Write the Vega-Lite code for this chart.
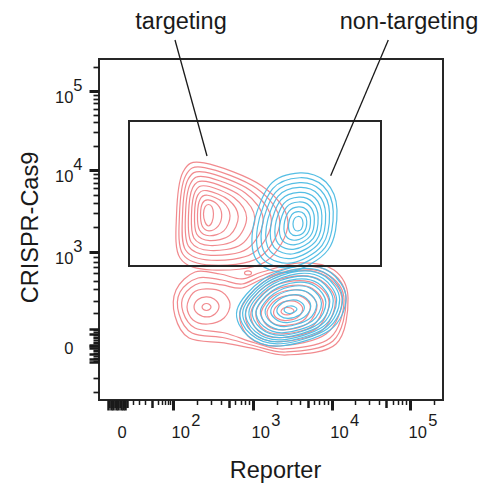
{
  "$schema": "https://vega.github.io/schema/vega-lite/v6.json",
  "width": 344,
  "height": 341,
  "autosize": {"type": "none"},
  "padding": {"left": 99, "top": 59, "right": 57, "bottom": 91},
  "background": "white",
  "config": {
    "font": "Liberation Sans",
    "view": {"stroke": "#262626", "strokeWidth": 2},
    "axis": {
      "grid": false,
      "domain": false,
      "tickColor": "#1a1a1a",
      "labelColor": "#1a1a1a",
      "labelFont": "Liberation Sans",
      "labelFontSize": 16.5,
      "labelLineHeight": 12.5,
      "labelOverlap": false,
      "labelFlush": false,
      "labelBound": false,
      "titleFont": "Liberation Sans",
      "titleFontSize": 23.5,
      "titleFontWeight": "normal",
      "titleColor": "#1a1a1a"
    }
  },
  "resolve": {"axis": {"x": "independent", "y": "independent"}},
  "datasets": {
    "contours": [
      {"sample":"targeting","ring":"t-u1","pt":0,"reporter":2.506,"cas9":3.475},
      {"sample":"targeting","ring":"t-u1","pt":1,"reporter":2.488,"cas9":3.563},
      {"sample":"targeting","ring":"t-u1","pt":2,"reporter":2.444,"cas9":3.594},
      {"sample":"targeting","ring":"t-u1","pt":3,"reporter":2.400,"cas9":3.563},
      {"sample":"targeting","ring":"t-u1","pt":4,"reporter":2.381,"cas9":3.475},
      {"sample":"targeting","ring":"t-u1","pt":5,"reporter":2.400,"cas9":3.375},
      {"sample":"targeting","ring":"t-u1","pt":6,"reporter":2.444,"cas9":3.325},
      {"sample":"targeting","ring":"t-u1","pt":7,"reporter":2.488,"cas9":3.375},
      {"sample":"targeting","ring":"t-u2","pt":0,"reporter":2.609,"cas9":3.464},
      {"sample":"targeting","ring":"t-u2","pt":1,"reporter":2.557,"cas9":3.592},
      {"sample":"targeting","ring":"t-u2","pt":2,"reporter":2.438,"cas9":3.652},
      {"sample":"targeting","ring":"t-u2","pt":3,"reporter":2.369,"cas9":3.611},
      {"sample":"targeting","ring":"t-u2","pt":4,"reporter":2.344,"cas9":3.474},
      {"sample":"targeting","ring":"t-u2","pt":5,"reporter":2.365,"cas9":3.325},
      {"sample":"targeting","ring":"t-u2","pt":6,"reporter":2.449,"cas9":3.264},
      {"sample":"targeting","ring":"t-u2","pt":7,"reporter":2.562,"cas9":3.319},
      {"sample":"targeting","ring":"t-u3","pt":0,"reporter":2.713,"cas9":3.453},
      {"sample":"targeting","ring":"t-u3","pt":1,"reporter":2.627,"cas9":3.621},
      {"sample":"targeting","ring":"t-u3","pt":2,"reporter":2.432,"cas9":3.709},
      {"sample":"targeting","ring":"t-u3","pt":3,"reporter":2.339,"cas9":3.660},
      {"sample":"targeting","ring":"t-u3","pt":4,"reporter":2.306,"cas9":3.472},
      {"sample":"targeting","ring":"t-u3","pt":5,"reporter":2.331,"cas9":3.275},
      {"sample":"targeting","ring":"t-u3","pt":6,"reporter":2.454,"cas9":3.203},
      {"sample":"targeting","ring":"t-u3","pt":7,"reporter":2.635,"cas9":3.264},
      {"sample":"targeting","ring":"t-u4","pt":0,"reporter":2.816,"cas9":3.442},
      {"sample":"targeting","ring":"t-u4","pt":1,"reporter":2.696,"cas9":3.650},
      {"sample":"targeting","ring":"t-u4","pt":2,"reporter":2.425,"cas9":3.767},
      {"sample":"targeting","ring":"t-u4","pt":3,"reporter":2.308,"cas9":3.708},
      {"sample":"targeting","ring":"t-u4","pt":4,"reporter":2.269,"cas9":3.471},
      {"sample":"targeting","ring":"t-u4","pt":5,"reporter":2.296,"cas9":3.225},
      {"sample":"targeting","ring":"t-u4","pt":6,"reporter":2.459,"cas9":3.142},
      {"sample":"targeting","ring":"t-u4","pt":7,"reporter":2.709,"cas9":3.208},
      {"sample":"targeting","ring":"t-u5","pt":0,"reporter":2.920,"cas9":3.431},
      {"sample":"targeting","ring":"t-u5","pt":1,"reporter":2.765,"cas9":3.679},
      {"sample":"targeting","ring":"t-u5","pt":2,"reporter":2.419,"cas9":3.825},
      {"sample":"targeting","ring":"t-u5","pt":3,"reporter":2.278,"cas9":3.757},
      {"sample":"targeting","ring":"t-u5","pt":4,"reporter":2.231,"cas9":3.469},
      {"sample":"targeting","ring":"t-u5","pt":5,"reporter":2.261,"cas9":3.175},
      {"sample":"targeting","ring":"t-u5","pt":6,"reporter":2.464,"cas9":3.081},
      {"sample":"targeting","ring":"t-u5","pt":7,"reporter":2.782,"cas9":3.153},
      {"sample":"targeting","ring":"t-u6","pt":0,"reporter":3.023,"cas9":3.419},
      {"sample":"targeting","ring":"t-u6","pt":1,"reporter":2.835,"cas9":3.708},
      {"sample":"targeting","ring":"t-u6","pt":2,"reporter":2.413,"cas9":3.882},
      {"sample":"targeting","ring":"t-u6","pt":3,"reporter":2.247,"cas9":3.806},
      {"sample":"targeting","ring":"t-u6","pt":4,"reporter":2.194,"cas9":3.468},
      {"sample":"targeting","ring":"t-u6","pt":5,"reporter":2.226,"cas9":3.125},
      {"sample":"targeting","ring":"t-u6","pt":6,"reporter":2.468,"cas9":3.019},
      {"sample":"targeting","ring":"t-u6","pt":7,"reporter":2.856,"cas9":3.097},
      {"sample":"targeting","ring":"t-u7","pt":0,"reporter":3.127,"cas9":3.408},
      {"sample":"targeting","ring":"t-u7","pt":1,"reporter":2.904,"cas9":3.738},
      {"sample":"targeting","ring":"t-u7","pt":2,"reporter":2.407,"cas9":3.940},
      {"sample":"targeting","ring":"t-u7","pt":3,"reporter":2.217,"cas9":3.854},
      {"sample":"targeting","ring":"t-u7","pt":4,"reporter":2.156,"cas9":3.467},
      {"sample":"targeting","ring":"t-u7","pt":5,"reporter":2.192,"cas9":3.075},
      {"sample":"targeting","ring":"t-u7","pt":6,"reporter":2.473,"cas9":2.958},
      {"sample":"targeting","ring":"t-u7","pt":7,"reporter":2.929,"cas9":3.042},
      {"sample":"targeting","ring":"t-u8","pt":0,"reporter":3.230,"cas9":3.397},
      {"sample":"targeting","ring":"t-u8","pt":1,"reporter":2.973,"cas9":3.767},
      {"sample":"targeting","ring":"t-u8","pt":2,"reporter":2.400,"cas9":3.998},
      {"sample":"targeting","ring":"t-u8","pt":3,"reporter":2.186,"cas9":3.903},
      {"sample":"targeting","ring":"t-u8","pt":4,"reporter":2.119,"cas9":3.465},
      {"sample":"targeting","ring":"t-u8","pt":5,"reporter":2.157,"cas9":3.025},
      {"sample":"targeting","ring":"t-u8","pt":6,"reporter":2.478,"cas9":2.897},
      {"sample":"targeting","ring":"t-u8","pt":7,"reporter":3.003,"cas9":2.986},
      {"sample":"targeting","ring":"t-u9","pt":0,"reporter":3.334,"cas9":3.386},
      {"sample":"targeting","ring":"t-u9","pt":1,"reporter":3.043,"cas9":3.796},
      {"sample":"targeting","ring":"t-u9","pt":2,"reporter":2.394,"cas9":4.055},
      {"sample":"targeting","ring":"t-u9","pt":3,"reporter":2.156,"cas9":3.951},
      {"sample":"targeting","ring":"t-u9","pt":4,"reporter":2.081,"cas9":3.464},
      {"sample":"targeting","ring":"t-u9","pt":5,"reporter":2.122,"cas9":2.975},
      {"sample":"targeting","ring":"t-u9","pt":6,"reporter":2.483,"cas9":2.836},
      {"sample":"targeting","ring":"t-u9","pt":7,"reporter":3.076,"cas9":2.931},
      {"sample":"targeting","ring":"t-u10","pt":0,"reporter":3.437,"cas9":3.375},
      {"sample":"targeting","ring":"t-u10","pt":1,"reporter":3.112,"cas9":3.825},
      {"sample":"targeting","ring":"t-u10","pt":2,"reporter":2.388,"cas9":4.113},
      {"sample":"targeting","ring":"t-u10","pt":3,"reporter":2.125,"cas9":4.000},
      {"sample":"targeting","ring":"t-u10","pt":4,"reporter":2.044,"cas9":3.463},
      {"sample":"targeting","ring":"t-u10","pt":5,"reporter":2.088,"cas9":2.925},
      {"sample":"targeting","ring":"t-u10","pt":6,"reporter":2.488,"cas9":2.775},
      {"sample":"targeting","ring":"t-u10","pt":7,"reporter":3.150,"cas9":2.875},
      {"sample":"targeting","ring":"t-s1","pt":0,"reporter":2.475,"cas9":2.313},
      {"sample":"targeting","ring":"t-s1","pt":1,"reporter":2.456,"cas9":2.344},
      {"sample":"targeting","ring":"t-s1","pt":2,"reporter":2.419,"cas9":2.356},
      {"sample":"targeting","ring":"t-s1","pt":3,"reporter":2.381,"cas9":2.344},
      {"sample":"targeting","ring":"t-s1","pt":4,"reporter":2.363,"cas9":2.313},
      {"sample":"targeting","ring":"t-s1","pt":5,"reporter":2.381,"cas9":2.281},
      {"sample":"targeting","ring":"t-s1","pt":6,"reporter":2.419,"cas9":2.269},
      {"sample":"targeting","ring":"t-s1","pt":7,"reporter":2.456,"cas9":2.281},
      {"sample":"targeting","ring":"t-s2","pt":0,"reporter":2.575,"cas9":2.325},
      {"sample":"targeting","ring":"t-s2","pt":1,"reporter":2.513,"cas9":2.413},
      {"sample":"targeting","ring":"t-s2","pt":2,"reporter":2.413,"cas9":2.438},
      {"sample":"targeting","ring":"t-s2","pt":3,"reporter":2.313,"cas9":2.406},
      {"sample":"targeting","ring":"t-s2","pt":4,"reporter":2.263,"cas9":2.313},
      {"sample":"targeting","ring":"t-s2","pt":5,"reporter":2.313,"cas9":2.225},
      {"sample":"targeting","ring":"t-s2","pt":6,"reporter":2.425,"cas9":2.188},
      {"sample":"targeting","ring":"t-s2","pt":7,"reporter":2.525,"cas9":2.225},
      {"sample":"targeting","ring":"t-s3","pt":0,"reporter":2.713,"cas9":2.350},
      {"sample":"targeting","ring":"t-s3","pt":1,"reporter":2.613,"cas9":2.500},
      {"sample":"targeting","ring":"t-s3","pt":2,"reporter":2.413,"cas9":2.538},
      {"sample":"targeting","ring":"t-s3","pt":3,"reporter":2.250,"cas9":2.488},
      {"sample":"targeting","ring":"t-s3","pt":4,"reporter":2.175,"cas9":2.313},
      {"sample":"targeting","ring":"t-s3","pt":5,"reporter":2.250,"cas9":2.150},
      {"sample":"targeting","ring":"t-s3","pt":6,"reporter":2.438,"cas9":2.100},
      {"sample":"targeting","ring":"t-s3","pt":7,"reporter":2.638,"cas9":2.175},
      {"sample":"targeting","ring":"t-l1","pt":0,"reporter":3.513,"cas9":2.263},
      {"sample":"targeting","ring":"t-l1","pt":1,"reporter":3.475,"cas9":2.300},
      {"sample":"targeting","ring":"t-l1","pt":2,"reporter":3.425,"cas9":2.306},
      {"sample":"targeting","ring":"t-l1","pt":3,"reporter":3.375,"cas9":2.294},
      {"sample":"targeting","ring":"t-l1","pt":4,"reporter":3.350,"cas9":2.256},
      {"sample":"targeting","ring":"t-l1","pt":5,"reporter":3.375,"cas9":2.225},
      {"sample":"targeting","ring":"t-l1","pt":6,"reporter":3.425,"cas9":2.213},
      {"sample":"targeting","ring":"t-l1","pt":7,"reporter":3.475,"cas9":2.225},
      {"sample":"targeting","ring":"t-l2","pt":0,"reporter":3.621,"cas9":2.287},
      {"sample":"targeting","ring":"t-l2","pt":1,"reporter":3.554,"cas9":2.372},
      {"sample":"targeting","ring":"t-l2","pt":2,"reporter":3.445,"cas9":2.388},
      {"sample":"targeting","ring":"t-l2","pt":3,"reporter":3.328,"cas9":2.351},
      {"sample":"targeting","ring":"t-l2","pt":4,"reporter":3.258,"cas9":2.255},
      {"sample":"targeting","ring":"t-l2","pt":5,"reporter":3.301,"cas9":2.171},
      {"sample":"targeting","ring":"t-l2","pt":6,"reporter":3.409,"cas9":2.143},
      {"sample":"targeting","ring":"t-l2","pt":7,"reporter":3.554,"cas9":2.180},
      {"sample":"targeting","ring":"t-l3","pt":0,"reporter":3.717,"cas9":2.309},
      {"sample":"targeting","ring":"t-l3","pt":1,"reporter":3.624,"cas9":2.436},
      {"sample":"targeting","ring":"t-l3","pt":2,"reporter":3.463,"cas9":2.461},
      {"sample":"targeting","ring":"t-l3","pt":3,"reporter":3.286,"cas9":2.402},
      {"sample":"targeting","ring":"t-l3","pt":4,"reporter":3.176,"cas9":2.254},
      {"sample":"targeting","ring":"t-l3","pt":5,"reporter":3.235,"cas9":2.123},
      {"sample":"targeting","ring":"t-l3","pt":6,"reporter":3.395,"cas9":2.081},
      {"sample":"targeting","ring":"t-l3","pt":7,"reporter":3.624,"cas9":2.140},
      {"sample":"targeting","ring":"t-l4","pt":0,"reporter":3.801,"cas9":2.329},
      {"sample":"targeting","ring":"t-l4","pt":1,"reporter":3.685,"cas9":2.492},
      {"sample":"targeting","ring":"t-l4","pt":2,"reporter":3.479,"cas9":2.525},
      {"sample":"targeting","ring":"t-l4","pt":3,"reporter":3.249,"cas9":2.447},
      {"sample":"targeting","ring":"t-l4","pt":4,"reporter":3.104,"cas9":2.253},
      {"sample":"targeting","ring":"t-l4","pt":5,"reporter":3.177,"cas9":2.081},
      {"sample":"targeting","ring":"t-l4","pt":6,"reporter":3.383,"cas9":2.026},
      {"sample":"targeting","ring":"t-l4","pt":7,"reporter":3.685,"cas9":2.105},
      {"sample":"targeting","ring":"t-l5","pt":0,"reporter":3.879,"cas9":2.346},
      {"sample":"targeting","ring":"t-l5","pt":1,"reporter":3.742,"cas9":2.544},
      {"sample":"targeting","ring":"t-l5","pt":2,"reporter":3.494,"cas9":2.584},
      {"sample":"targeting","ring":"t-l5","pt":3,"reporter":3.215,"cas9":2.488},
      {"sample":"targeting","ring":"t-l5","pt":4,"reporter":3.037,"cas9":2.252},
      {"sample":"targeting","ring":"t-l5","pt":5,"reporter":3.123,"cas9":2.042},
      {"sample":"targeting","ring":"t-l5","pt":6,"reporter":3.372,"cas9":1.976},
      {"sample":"targeting","ring":"t-l5","pt":7,"reporter":3.742,"cas9":2.073},
      {"sample":"targeting","ring":"t-l6","pt":0,"reporter":3.951,"cas9":2.363},
      {"sample":"targeting","ring":"t-l6","pt":1,"reporter":3.794,"cas9":2.592},
      {"sample":"targeting","ring":"t-l6","pt":2,"reporter":3.507,"cas9":2.639},
      {"sample":"targeting","ring":"t-l6","pt":3,"reporter":3.183,"cas9":2.527},
      {"sample":"targeting","ring":"t-l6","pt":4,"reporter":2.976,"cas9":2.252},
      {"sample":"targeting","ring":"t-l6","pt":5,"reporter":3.074,"cas9":2.006},
      {"sample":"targeting","ring":"t-l6","pt":6,"reporter":3.361,"cas9":1.930},
      {"sample":"targeting","ring":"t-l6","pt":7,"reporter":3.794,"cas9":2.043},
      {"sample":"targeting","ring":"t-l7","pt":0,"reporter":4.029,"cas9":2.381},
      {"sample":"targeting","ring":"t-l7","pt":1,"reporter":3.851,"cas9":2.644},
      {"sample":"targeting","ring":"t-l7","pt":2,"reporter":3.522,"cas9":2.699},
      {"sample":"targeting","ring":"t-l7","pt":3,"reporter":3.149,"cas9":2.568},
      {"sample":"targeting","ring":"t-l7","pt":4,"reporter":2.909,"cas9":2.251},
      {"sample":"targeting","ring":"t-l7","pt":5,"reporter":3.020,"cas9":1.967},
      {"sample":"targeting","ring":"t-l7","pt":6,"reporter":3.350,"cas9":1.879},
      {"sample":"targeting","ring":"t-l7","pt":7,"reporter":3.851,"cas9":2.010},
      {"sample":"targeting","ring":"t-l8","pt":0,"reporter":4.113,"cas9":2.400},
      {"sample":"targeting","ring":"t-l8","pt":1,"reporter":3.913,"cas9":2.700},
      {"sample":"targeting","ring":"t-l8","pt":2,"reporter":3.538,"cas9":2.763},
      {"sample":"targeting","ring":"t-l8","pt":3,"reporter":3.113,"cas9":2.613},
      {"sample":"targeting","ring":"t-l8","pt":4,"reporter":2.838,"cas9":2.250},
      {"sample":"targeting","ring":"t-l8","pt":5,"reporter":2.963,"cas9":1.925},
      {"sample":"targeting","ring":"t-l8","pt":6,"reporter":3.338,"cas9":1.825},
      {"sample":"targeting","ring":"t-l8","pt":7,"reporter":3.913,"cas9":1.975},
      {"sample":"targeting","ring":"t-m1","pt":0,"reporter":4.138,"cas9":2.400},
      {"sample":"targeting","ring":"t-m1","pt":1,"reporter":3.963,"cas9":2.700},
      {"sample":"targeting","ring":"t-m1","pt":2,"reporter":3.588,"cas9":2.788},
      {"sample":"targeting","ring":"t-m1","pt":3,"reporter":3.150,"cas9":2.675},
      {"sample":"targeting","ring":"t-m1","pt":4,"reporter":2.863,"cas9":2.550},
      {"sample":"targeting","ring":"t-m1","pt":5,"reporter":2.613,"cas9":2.588},
      {"sample":"targeting","ring":"t-m1","pt":6,"reporter":2.338,"cas9":2.613},
      {"sample":"targeting","ring":"t-m1","pt":7,"reporter":2.138,"cas9":2.463},
      {"sample":"targeting","ring":"t-m1","pt":8,"reporter":2.125,"cas9":2.250},
      {"sample":"targeting","ring":"t-m1","pt":9,"reporter":2.275,"cas9":2.050},
      {"sample":"targeting","ring":"t-m1","pt":10,"reporter":2.650,"cas9":1.988},
      {"sample":"targeting","ring":"t-m1","pt":11,"reporter":3.025,"cas9":1.863},
      {"sample":"targeting","ring":"t-m1","pt":12,"reporter":3.400,"cas9":1.788},
      {"sample":"targeting","ring":"t-m1","pt":13,"reporter":3.963,"cas9":1.925},
      {"sample":"targeting","ring":"t-m2","pt":0,"reporter":4.163,"cas9":2.413},
      {"sample":"targeting","ring":"t-m2","pt":1,"reporter":3.988,"cas9":2.738},
      {"sample":"targeting","ring":"t-m2","pt":2,"reporter":3.588,"cas9":2.825},
      {"sample":"targeting","ring":"t-m2","pt":3,"reporter":3.138,"cas9":2.713},
      {"sample":"targeting","ring":"t-m2","pt":4,"reporter":2.863,"cas9":2.600},
      {"sample":"targeting","ring":"t-m2","pt":5,"reporter":2.613,"cas9":2.650},
      {"sample":"targeting","ring":"t-m2","pt":6,"reporter":2.313,"cas9":2.675},
      {"sample":"targeting","ring":"t-m2","pt":7,"reporter":2.088,"cas9":2.500},
      {"sample":"targeting","ring":"t-m2","pt":8,"reporter":2.075,"cas9":2.225},
      {"sample":"targeting","ring":"t-m2","pt":9,"reporter":2.238,"cas9":1.988},
      {"sample":"targeting","ring":"t-m2","pt":10,"reporter":2.650,"cas9":1.925},
      {"sample":"targeting","ring":"t-m2","pt":11,"reporter":3.025,"cas9":1.825},
      {"sample":"targeting","ring":"t-m2","pt":12,"reporter":3.413,"cas9":1.750},
      {"sample":"targeting","ring":"t-m2","pt":13,"reporter":4.000,"cas9":1.888},
      {"sample":"targeting","ring":"t-m3","pt":0,"reporter":4.188,"cas9":2.425},
      {"sample":"targeting","ring":"t-m3","pt":1,"reporter":4.013,"cas9":2.775},
      {"sample":"targeting","ring":"t-m3","pt":2,"reporter":3.588,"cas9":2.863},
      {"sample":"targeting","ring":"t-m3","pt":3,"reporter":3.113,"cas9":2.750},
      {"sample":"targeting","ring":"t-m3","pt":4,"reporter":2.863,"cas9":2.663},
      {"sample":"targeting","ring":"t-m3","pt":5,"reporter":2.588,"cas9":2.725},
      {"sample":"targeting","ring":"t-m3","pt":6,"reporter":2.275,"cas9":2.750},
      {"sample":"targeting","ring":"t-m3","pt":7,"reporter":2.038,"cas9":2.525},
      {"sample":"targeting","ring":"t-m3","pt":8,"reporter":2.025,"cas9":2.200},
      {"sample":"targeting","ring":"t-m3","pt":9,"reporter":2.200,"cas9":1.925},
      {"sample":"targeting","ring":"t-m3","pt":10,"reporter":2.638,"cas9":1.863},
      {"sample":"targeting","ring":"t-m3","pt":11,"reporter":3.025,"cas9":1.788},
      {"sample":"targeting","ring":"t-m3","pt":12,"reporter":3.425,"cas9":1.713},
      {"sample":"targeting","ring":"t-m3","pt":13,"reporter":4.038,"cas9":1.850},
      {"sample":"targeting","ring":"t-x1","pt":0,"reporter":2.981,"cas9":2.738},
      {"sample":"targeting","ring":"t-x1","pt":1,"reporter":2.969,"cas9":2.756},
      {"sample":"targeting","ring":"t-x1","pt":2,"reporter":2.938,"cas9":2.763},
      {"sample":"targeting","ring":"t-x1","pt":3,"reporter":2.906,"cas9":2.756},
      {"sample":"targeting","ring":"t-x1","pt":4,"reporter":2.894,"cas9":2.738},
      {"sample":"targeting","ring":"t-x1","pt":5,"reporter":2.906,"cas9":2.719},
      {"sample":"targeting","ring":"t-x1","pt":6,"reporter":2.938,"cas9":2.713},
      {"sample":"targeting","ring":"t-x1","pt":7,"reporter":2.969,"cas9":2.719},
      {"sample":"non-targeting","ring":"n-u1","pt":0,"reporter":3.625,"cas9":3.363},
      {"sample":"non-targeting","ring":"n-u1","pt":1,"reporter":3.606,"cas9":3.425},
      {"sample":"non-targeting","ring":"n-u1","pt":2,"reporter":3.563,"cas9":3.444},
      {"sample":"non-targeting","ring":"n-u1","pt":3,"reporter":3.519,"cas9":3.419},
      {"sample":"non-targeting","ring":"n-u1","pt":4,"reporter":3.500,"cas9":3.350},
      {"sample":"non-targeting","ring":"n-u1","pt":5,"reporter":3.519,"cas9":3.281},
      {"sample":"non-targeting","ring":"n-u1","pt":6,"reporter":3.563,"cas9":3.263},
      {"sample":"non-targeting","ring":"n-u1","pt":7,"reporter":3.606,"cas9":3.288},
      {"sample":"non-targeting","ring":"n-u2","pt":0,"reporter":3.672,"cas9":3.380},
      {"sample":"non-targeting","ring":"n-u2","pt":1,"reporter":3.640,"cas9":3.475},
      {"sample":"non-targeting","ring":"n-u2","pt":2,"reporter":3.565,"cas9":3.504},
      {"sample":"non-targeting","ring":"n-u2","pt":3,"reporter":3.485,"cas9":3.466},
      {"sample":"non-targeting","ring":"n-u2","pt":4,"reporter":3.444,"cas9":3.344},
      {"sample":"non-targeting","ring":"n-u2","pt":5,"reporter":3.468,"cas9":3.236},
      {"sample":"non-targeting","ring":"n-u2","pt":6,"reporter":3.551,"cas9":3.206},
      {"sample":"non-targeting","ring":"n-u2","pt":7,"reporter":3.643,"cas9":3.258},
      {"sample":"non-targeting","ring":"n-u3","pt":0,"reporter":3.719,"cas9":3.399},
      {"sample":"non-targeting","ring":"n-u3","pt":1,"reporter":3.674,"cas9":3.525},
      {"sample":"non-targeting","ring":"n-u3","pt":2,"reporter":3.568,"cas9":3.565},
      {"sample":"non-targeting","ring":"n-u3","pt":3,"reporter":3.451,"cas9":3.512},
      {"sample":"non-targeting","ring":"n-u3","pt":4,"reporter":3.389,"cas9":3.339},
      {"sample":"non-targeting","ring":"n-u3","pt":5,"reporter":3.418,"cas9":3.191},
      {"sample":"non-targeting","ring":"n-u3","pt":6,"reporter":3.540,"cas9":3.149},
      {"sample":"non-targeting","ring":"n-u3","pt":7,"reporter":3.680,"cas9":3.229},
      {"sample":"non-targeting","ring":"n-u4","pt":0,"reporter":3.767,"cas9":3.417},
      {"sample":"non-targeting","ring":"n-u4","pt":1,"reporter":3.708,"cas9":3.575},
      {"sample":"non-targeting","ring":"n-u4","pt":2,"reporter":3.571,"cas9":3.625},
      {"sample":"non-targeting","ring":"n-u4","pt":3,"reporter":3.417,"cas9":3.559},
      {"sample":"non-targeting","ring":"n-u4","pt":4,"reporter":3.333,"cas9":3.333},
      {"sample":"non-targeting","ring":"n-u4","pt":5,"reporter":3.367,"cas9":3.146},
      {"sample":"non-targeting","ring":"n-u4","pt":6,"reporter":3.529,"cas9":3.092},
      {"sample":"non-targeting","ring":"n-u4","pt":7,"reporter":3.716,"cas9":3.200},
      {"sample":"non-targeting","ring":"n-u5","pt":0,"reporter":3.814,"cas9":3.435},
      {"sample":"non-targeting","ring":"n-u5","pt":1,"reporter":3.742,"cas9":3.625},
      {"sample":"non-targeting","ring":"n-u5","pt":2,"reporter":3.574,"cas9":3.686},
      {"sample":"non-targeting","ring":"n-u5","pt":3,"reporter":3.383,"cas9":3.605},
      {"sample":"non-targeting","ring":"n-u5","pt":4,"reporter":3.278,"cas9":3.328},
      {"sample":"non-targeting","ring":"n-u5","pt":5,"reporter":3.316,"cas9":3.101},
      {"sample":"non-targeting","ring":"n-u5","pt":6,"reporter":3.518,"cas9":3.035},
      {"sample":"non-targeting","ring":"n-u5","pt":7,"reporter":3.753,"cas9":3.171},
      {"sample":"non-targeting","ring":"n-u6","pt":0,"reporter":3.861,"cas9":3.453},
      {"sample":"non-targeting","ring":"n-u6","pt":1,"reporter":3.776,"cas9":3.675},
      {"sample":"non-targeting","ring":"n-u6","pt":2,"reporter":3.576,"cas9":3.746},
      {"sample":"non-targeting","ring":"n-u6","pt":3,"reporter":3.349,"cas9":3.652},
      {"sample":"non-targeting","ring":"n-u6","pt":4,"reporter":3.222,"cas9":3.322},
      {"sample":"non-targeting","ring":"n-u6","pt":5,"reporter":3.266,"cas9":3.056},
      {"sample":"non-targeting","ring":"n-u6","pt":6,"reporter":3.507,"cas9":2.978},
      {"sample":"non-targeting","ring":"n-u6","pt":7,"reporter":3.790,"cas9":3.142},
      {"sample":"non-targeting","ring":"n-u7","pt":0,"reporter":3.908,"cas9":3.471},
      {"sample":"non-targeting","ring":"n-u7","pt":1,"reporter":3.810,"cas9":3.725},
      {"sample":"non-targeting","ring":"n-u7","pt":2,"reporter":3.579,"cas9":3.807},
      {"sample":"non-targeting","ring":"n-u7","pt":3,"reporter":3.315,"cas9":3.698},
      {"sample":"non-targeting","ring":"n-u7","pt":4,"reporter":3.167,"cas9":3.317},
      {"sample":"non-targeting","ring":"n-u7","pt":5,"reporter":3.215,"cas9":3.010},
      {"sample":"non-targeting","ring":"n-u7","pt":6,"reporter":3.496,"cas9":2.921},
      {"sample":"non-targeting","ring":"n-u7","pt":7,"reporter":3.827,"cas9":3.113},
      {"sample":"non-targeting","ring":"n-u8","pt":0,"reporter":3.956,"cas9":3.489},
      {"sample":"non-targeting","ring":"n-u8","pt":1,"reporter":3.844,"cas9":3.775},
      {"sample":"non-targeting","ring":"n-u8","pt":2,"reporter":3.582,"cas9":3.867},
      {"sample":"non-targeting","ring":"n-u8","pt":3,"reporter":3.281,"cas9":3.745},
      {"sample":"non-targeting","ring":"n-u8","pt":4,"reporter":3.111,"cas9":3.311},
      {"sample":"non-targeting","ring":"n-u8","pt":5,"reporter":3.164,"cas9":2.965},
      {"sample":"non-targeting","ring":"n-u8","pt":6,"reporter":3.485,"cas9":2.864},
      {"sample":"non-targeting","ring":"n-u8","pt":7,"reporter":3.863,"cas9":3.083},
      {"sample":"non-targeting","ring":"n-u9","pt":0,"reporter":4.003,"cas9":3.507},
      {"sample":"non-targeting","ring":"n-u9","pt":1,"reporter":3.878,"cas9":3.825},
      {"sample":"non-targeting","ring":"n-u9","pt":2,"reporter":3.585,"cas9":3.928},
      {"sample":"non-targeting","ring":"n-u9","pt":3,"reporter":3.247,"cas9":3.791},
      {"sample":"non-targeting","ring":"n-u9","pt":4,"reporter":3.056,"cas9":3.306},
      {"sample":"non-targeting","ring":"n-u9","pt":5,"reporter":3.114,"cas9":2.920},
      {"sample":"non-targeting","ring":"n-u9","pt":6,"reporter":3.474,"cas9":2.807},
      {"sample":"non-targeting","ring":"n-u9","pt":7,"reporter":3.900,"cas9":3.054},
      {"sample":"non-targeting","ring":"n-u10","pt":0,"reporter":4.050,"cas9":3.525},
      {"sample":"non-targeting","ring":"n-u10","pt":1,"reporter":3.912,"cas9":3.875},
      {"sample":"non-targeting","ring":"n-u10","pt":2,"reporter":3.588,"cas9":3.988},
      {"sample":"non-targeting","ring":"n-u10","pt":3,"reporter":3.213,"cas9":3.838},
      {"sample":"non-targeting","ring":"n-u10","pt":4,"reporter":3.000,"cas9":3.300},
      {"sample":"non-targeting","ring":"n-u10","pt":5,"reporter":3.063,"cas9":2.875},
      {"sample":"non-targeting","ring":"n-u10","pt":6,"reporter":3.463,"cas9":2.750},
      {"sample":"non-targeting","ring":"n-u10","pt":7,"reporter":3.937,"cas9":3.025},
      {"sample":"non-targeting","ring":"n-l1","pt":0,"reporter":3.550,"cas9":2.288},
      {"sample":"non-targeting","ring":"n-l1","pt":1,"reporter":3.513,"cas9":2.319},
      {"sample":"non-targeting","ring":"n-l1","pt":2,"reporter":3.463,"cas9":2.325},
      {"sample":"non-targeting","ring":"n-l1","pt":3,"reporter":3.413,"cas9":2.313},
      {"sample":"non-targeting","ring":"n-l1","pt":4,"reporter":3.388,"cas9":2.275},
      {"sample":"non-targeting","ring":"n-l1","pt":5,"reporter":3.413,"cas9":2.244},
      {"sample":"non-targeting","ring":"n-l1","pt":6,"reporter":3.463,"cas9":2.231},
      {"sample":"non-targeting","ring":"n-l1","pt":7,"reporter":3.519,"cas9":2.250},
      {"sample":"non-targeting","ring":"n-l2","pt":0,"reporter":3.642,"cas9":2.308},
      {"sample":"non-targeting","ring":"n-l2","pt":1,"reporter":3.580,"cas9":2.384},
      {"sample":"non-targeting","ring":"n-l2","pt":2,"reporter":3.481,"cas9":2.400},
      {"sample":"non-targeting","ring":"n-l2","pt":3,"reporter":3.368,"cas9":2.363},
      {"sample":"non-targeting","ring":"n-l2","pt":4,"reporter":3.299,"cas9":2.275},
      {"sample":"non-targeting","ring":"n-l2","pt":5,"reporter":3.341,"cas9":2.200},
      {"sample":"non-targeting","ring":"n-l2","pt":6,"reporter":3.444,"cas9":2.170},
      {"sample":"non-targeting","ring":"n-l2","pt":7,"reporter":3.586,"cas9":2.216},
      {"sample":"non-targeting","ring":"n-l3","pt":0,"reporter":3.722,"cas9":2.326},
      {"sample":"non-targeting","ring":"n-l3","pt":1,"reporter":3.639,"cas9":2.440},
      {"sample":"non-targeting","ring":"n-l3","pt":2,"reporter":3.498,"cas9":2.465},
      {"sample":"non-targeting","ring":"n-l3","pt":3,"reporter":3.329,"cas9":2.407},
      {"sample":"non-targeting","ring":"n-l3","pt":4,"reporter":3.223,"cas9":2.275},
      {"sample":"non-targeting","ring":"n-l3","pt":5,"reporter":3.280,"cas9":2.162},
      {"sample":"non-targeting","ring":"n-l3","pt":6,"reporter":3.428,"cas9":2.117},
      {"sample":"non-targeting","ring":"n-l3","pt":7,"reporter":3.643,"cas9":2.187},
      {"sample":"non-targeting","ring":"n-l4","pt":0,"reporter":3.795,"cas9":2.343},
      {"sample":"non-targeting","ring":"n-l4","pt":1,"reporter":3.693,"cas9":2.491},
      {"sample":"non-targeting","ring":"n-l4","pt":2,"reporter":3.513,"cas9":2.525},
      {"sample":"non-targeting","ring":"n-l4","pt":3,"reporter":3.293,"cas9":2.448},
      {"sample":"non-targeting","ring":"n-l4","pt":4,"reporter":3.153,"cas9":2.275},
      {"sample":"non-targeting","ring":"n-l4","pt":5,"reporter":3.223,"cas9":2.126},
      {"sample":"non-targeting","ring":"n-l4","pt":6,"reporter":3.413,"cas9":2.069},
      {"sample":"non-targeting","ring":"n-l4","pt":7,"reporter":3.696,"cas9":2.160},
      {"sample":"non-targeting","ring":"n-l5","pt":0,"reporter":3.856,"cas9":2.356},
      {"sample":"non-targeting","ring":"n-l5","pt":1,"reporter":3.738,"cas9":2.535},
      {"sample":"non-targeting","ring":"n-l5","pt":2,"reporter":3.525,"cas9":2.575},
      {"sample":"non-targeting","ring":"n-l5","pt":3,"reporter":3.263,"cas9":2.481},
      {"sample":"non-targeting","ring":"n-l5","pt":4,"reporter":3.094,"cas9":2.275},
      {"sample":"non-targeting","ring":"n-l5","pt":5,"reporter":3.175,"cas9":2.097},
      {"sample":"non-targeting","ring":"n-l5","pt":6,"reporter":3.400,"cas9":2.028},
      {"sample":"non-targeting","ring":"n-l5","pt":7,"reporter":3.741,"cas9":2.138},
      {"sample":"non-targeting","ring":"n-l6","pt":0,"reporter":3.911,"cas9":2.369},
      {"sample":"non-targeting","ring":"n-l6","pt":1,"reporter":3.778,"cas9":2.573},
      {"sample":"non-targeting","ring":"n-l6","pt":2,"reporter":3.536,"cas9":2.620},
      {"sample":"non-targeting","ring":"n-l6","pt":3,"reporter":3.236,"cas9":2.512},
      {"sample":"non-targeting","ring":"n-l6","pt":4,"reporter":3.041,"cas9":2.275},
      {"sample":"non-targeting","ring":"n-l6","pt":5,"reporter":3.132,"cas9":2.071},
      {"sample":"non-targeting","ring":"n-l6","pt":6,"reporter":3.389,"cas9":1.991},
      {"sample":"non-targeting","ring":"n-l6","pt":7,"reporter":3.781,"cas9":2.117},
      {"sample":"non-targeting","ring":"n-l7","pt":0,"reporter":3.960,"cas9":2.380},
      {"sample":"non-targeting","ring":"n-l7","pt":1,"reporter":3.814,"cas9":2.608},
      {"sample":"non-targeting","ring":"n-l7","pt":2,"reporter":3.546,"cas9":2.660},
      {"sample":"non-targeting","ring":"n-l7","pt":3,"reporter":3.212,"cas9":2.539},
      {"sample":"non-targeting","ring":"n-l7","pt":4,"reporter":2.994,"cas9":2.275},
      {"sample":"non-targeting","ring":"n-l7","pt":5,"reporter":3.094,"cas9":2.047},
      {"sample":"non-targeting","ring":"n-l7","pt":6,"reporter":3.379,"cas9":1.959},
      {"sample":"non-targeting","ring":"n-l7","pt":7,"reporter":3.816,"cas9":2.099},
      {"sample":"non-targeting","ring":"n-l8","pt":0,"reporter":4.003,"cas9":2.389},
      {"sample":"non-targeting","ring":"n-l8","pt":1,"reporter":3.846,"cas9":2.638},
      {"sample":"non-targeting","ring":"n-l8","pt":2,"reporter":3.555,"cas9":2.695},
      {"sample":"non-targeting","ring":"n-l8","pt":3,"reporter":3.191,"cas9":2.562},
      {"sample":"non-targeting","ring":"n-l8","pt":4,"reporter":2.953,"cas9":2.275},
      {"sample":"non-targeting","ring":"n-l8","pt":5,"reporter":3.061,"cas9":2.026},
      {"sample":"non-targeting","ring":"n-l8","pt":6,"reporter":3.370,"cas9":1.931},
      {"sample":"non-targeting","ring":"n-l8","pt":7,"reporter":3.847,"cas9":2.084},
      {"sample":"non-targeting","ring":"n-l9","pt":0,"reporter":4.046,"cas9":2.399},
      {"sample":"non-targeting","ring":"n-l9","pt":1,"reporter":3.877,"cas9":2.668},
      {"sample":"non-targeting","ring":"n-l9","pt":2,"reporter":3.564,"cas9":2.730},
      {"sample":"non-targeting","ring":"n-l9","pt":3,"reporter":3.170,"cas9":2.586},
      {"sample":"non-targeting","ring":"n-l9","pt":4,"reporter":2.912,"cas9":2.275},
      {"sample":"non-targeting","ring":"n-l9","pt":5,"reporter":3.028,"cas9":2.006},
      {"sample":"non-targeting","ring":"n-l9","pt":6,"reporter":3.361,"cas9":1.902},
      {"sample":"non-targeting","ring":"n-l9","pt":7,"reporter":3.878,"cas9":2.068},
      {"sample":"non-targeting","ring":"n-l10","pt":0,"reporter":4.083,"cas9":2.407},
      {"sample":"non-targeting","ring":"n-l10","pt":1,"reporter":3.904,"cas9":2.694},
      {"sample":"non-targeting","ring":"n-l10","pt":2,"reporter":3.571,"cas9":2.760},
      {"sample":"non-targeting","ring":"n-l10","pt":3,"reporter":3.152,"cas9":2.606},
      {"sample":"non-targeting","ring":"n-l10","pt":4,"reporter":2.876,"cas9":2.275},
      {"sample":"non-targeting","ring":"n-l10","pt":5,"reporter":2.999,"cas9":1.988},
      {"sample":"non-targeting","ring":"n-l10","pt":6,"reporter":3.354,"cas9":1.878},
      {"sample":"non-targeting","ring":"n-l10","pt":7,"reporter":3.905,"cas9":2.054},
      {"sample":"non-targeting","ring":"n-l11","pt":0,"reporter":4.120,"cas9":2.415},
      {"sample":"non-targeting","ring":"n-l11","pt":1,"reporter":3.931,"cas9":2.720},
      {"sample":"non-targeting","ring":"n-l11","pt":2,"reporter":3.579,"cas9":2.790},
      {"sample":"non-targeting","ring":"n-l11","pt":3,"reporter":3.134,"cas9":2.626},
      {"sample":"non-targeting","ring":"n-l11","pt":4,"reporter":2.841,"cas9":2.275},
      {"sample":"non-targeting","ring":"n-l11","pt":5,"reporter":2.971,"cas9":1.971},
      {"sample":"non-targeting","ring":"n-l11","pt":6,"reporter":3.346,"cas9":1.853},
      {"sample":"non-targeting","ring":"n-l11","pt":7,"reporter":3.931,"cas9":2.041},
      {"sample":"non-targeting","ring":"n-l12","pt":0,"reporter":4.163,"cas9":2.425},
      {"sample":"non-targeting","ring":"n-l12","pt":1,"reporter":3.963,"cas9":2.750},
      {"sample":"non-targeting","ring":"n-l12","pt":2,"reporter":3.588,"cas9":2.825},
      {"sample":"non-targeting","ring":"n-l12","pt":3,"reporter":3.113,"cas9":2.650},
      {"sample":"non-targeting","ring":"n-l12","pt":4,"reporter":2.800,"cas9":2.275},
      {"sample":"non-targeting","ring":"n-l12","pt":5,"reporter":2.938,"cas9":1.950},
      {"sample":"non-targeting","ring":"n-l12","pt":6,"reporter":3.338,"cas9":1.825},
      {"sample":"non-targeting","ring":"n-l12","pt":7,"reporter":3.963,"cas9":2.025}
    ],
    "gate": [{"left": 1.45, "right": 4.6, "bottom": 2.825, "top": 4.6375}],
    "leaders": [
      {"from_x": 2.025, "from_y": 5.65, "to_x": 2.425, "to_y": 4.2},
      {"from_x": 4.691, "from_y": 5.65, "to_x": 3.971, "to_y": 3.954}
    ],
    "notes": [
      {"label": "targeting", "reporter": 2.1, "cas9": 5.7875},
      {"label": "non-targeting", "reporter": 4.95, "cas9": 5.7875}
    ]
  },
  "layer": [
    {
      "data": {"name": "contours"},
      "mark": {"type": "line", "interpolate": "cardinal-closed", "strokeWidth": 1.2, "opacity": 0.95},
      "encoding": {
        "x": {
          "field": "reporter", "type": "quantitative",
          "scale": {"domain": [1.075, 5.375], "nice": false, "zero": false},
          "axis": {
            "orient": "bottom",
            "title": "Reporter",
            "values": [2, 3, 3.984, 4.9625],
            "tickSize": 10,
            "tickWidth": 3,
            "labelExpr": "datum.value == 2 ? ['\u200b\u00a0\u00a0\u00a0\u00a0\u200a2', '10'] : datum.value == 3 ? ['\u200b\u00a0\u00a0\u00a0\u00a0\u200a3', '10'] : datum.value == 3.984 ? ['\u200b\u00a0\u00a0\u00a0\u00a0\u200a4', '10'] : ['\u200b\u00a0\u00a0\u00a0\u00a0\u200a5', '10']",
            "labelAlign": "left",
            "labelOffset": -2,
            "labelBaseline": "top",
            "labelPadding": 2,
            "titleX": 176,
            "titleY": 77,
            "titleAlign": "center",
            "titleBaseline": "alphabetic"
          }
        },
        "y": {
          "field": "cas9", "type": "quantitative",
          "scale": {"domain": [1.15, 5.4125], "nice": false, "zero": false},
          "axis": {
            "orient": "left",
            "title": "CRISPR-Cas9",
            "values": [3, 4.025, 5.0125],
            "tickSize": 10,
            "tickWidth": 3,
            "labelExpr": "datum.value == 3 ? ['3', '10\u00a0\u00a0\u200b'] : datum.value == 4.025 ? ['4', '10\u00a0\u00a0\u200b'] : ['5', '10\u00a0\u00a0\u200b']",
            "labelAlign": "right",
            "labelBaseline": "top",
            "labelOffset": -14,
            "labelPadding": 7,
            "titleAngle": -90,
            "titleX": -61.5,
            "titleY": 168,
            "titleAlign": "center",
            "titleBaseline": "alphabetic"
          }
        },
        "detail": {"field": "ring"},
        "order": {"field": "pt", "type": "quantitative"},
        "color": {
          "field": "sample", "type": "nominal",
          "scale": {"domain": ["targeting", "non-targeting"], "range": ["#f08488", "#4cbbe3"]},
          "legend": null
        }
      }
    },
    {
      "data": {"name": "gate"},
      "mark": {"type": "rect", "fill": null, "fillOpacity": 0, "stroke": "#262626", "strokeWidth": 2},
      "encoding": {
        "x": {
          "field": "left", "type": "quantitative",
          "scale": {"domain": [1.075, 5.375], "nice": false, "zero": false},
          "axis": {
            "orient": "bottom", "title": null,
            "values": [1.356, 1.19, 1.222, 1.254, 1.286, 1.318, 1.372, 1.404],
            "tickSize": 10, "tickWidth": 2.5,
            "labelExpr": "datum.value == 1.356 ? '0' : ''",
            "labelAlign": "center", "labelBaseline": "top", "labelPadding": 14.5
          }
        },
        "x2": {"field": "right"},
        "y": {
          "field": "bottom", "type": "quantitative",
          "scale": {"domain": [1.15, 5.4125], "nice": false, "zero": false},
          "axis": {
            "orient": "left", "title": null,
            "values": [1.8, 1.62, 1.66, 1.72, 1.82, 1.84, 1.98, 2.04],
            "tickSize": 10, "tickWidth": 2.5,
            "labelExpr": "datum.value == 1.8 ? '0\u00a0\u00a0\u200b' : ''",
            "labelAlign": "right", "labelBaseline": "middle", "labelPadding": 7
          }
        },
        "y2": {"field": "top"}
      }
    },
    {
      "data": {"name": "leaders"},
      "mark": {"type": "rule", "stroke": "#1a1a1a", "strokeWidth": 1.3},
      "encoding": {
        "x": {
          "field": "from_x", "type": "quantitative",
          "scale": {"domain": [1.075, 5.375], "nice": false, "zero": false},
          "axis": {
            "orient": "bottom", "title": null,
            "values": [1.734, 2.699, 3.688, 4.668, 1.206, 1.238, 1.27, 1.302, 1.334, 1.388, 1.42],
            "tickSize": 7.5, "tickWidth": 2.5, "labels": false
          }
        },
        "y": {
          "field": "from_y", "type": "quantitative",
          "scale": {"domain": [1.15, 5.4125], "nice": false, "zero": false},
          "axis": {
            "orient": "left", "title": null,
            "values": [1.25, 1.425, 1.64, 1.68, 1.7, 1.74, 1.76, 1.78, 1.86, 1.88, 1.9, 1.92, 1.94, 1.96, 2.0, 2.02, 2.2375, 2.391, 2.5375, 2.641, 2.734, 2.816, 2.879, 2.941, 3.309, 3.489, 3.617, 3.716, 3.797, 3.866, 3.926, 3.978, 4.322, 4.496, 4.619, 4.715, 4.793, 4.859, 4.917, 4.967, 5.31],
            "tickSize": 6, "tickWidth": 1.7, "labels": false
          }
        },
        "x2": {"field": "to_x"},
        "y2": {"field": "to_y"}
      }
    },
    {
      "data": {"name": "notes"},
      "mark": {"type": "text", "font": "Liberation Sans", "fontSize": 23.5, "color": "#1a1a1a", "align": "center", "baseline": "alphabetic"},
      "encoding": {
        "x": {
          "field": "reporter", "type": "quantitative",
          "scale": {"domain": [1.075, 5.375], "nice": false, "zero": false},
          "axis": {
            "orient": "bottom", "title": null,
            "values": [1.5, 1.575, 1.65, 1.816, 1.858, 1.9, 1.934, 1.966, 2.301, 2.477, 2.602, 2.778, 2.845, 2.903, 2.954, 3.296, 3.469, 3.592, 3.766, 3.831, 3.889, 3.939, 4.279, 4.451, 4.573, 4.745, 4.811, 4.868, 4.917, 5.257],
            "tickSize": 4.5, "tickWidth": 1.5, "labels": false
          }
        },
        "y": {
          "field": "cas9", "type": "quantitative",
          "scale": {"domain": [1.15, 5.4125], "nice": false, "zero": false},
          "axis": null
        },
        "text": {"field": "label"}
      }
    }
  ]
}
